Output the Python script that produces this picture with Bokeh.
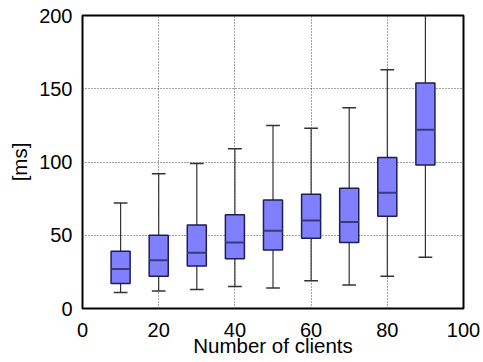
from bokeh.plotting import figure
from bokeh.models import Range1d, FixedTicker, ColumnDataSource
from bokeh.embed import file_html
from bokeh.resources import INLINE

clients = [10, 20, 30, 40, 50, 60, 70, 80, 90]
w_min = [11, 12, 13, 15, 14, 19, 16, 22, 35]
q1 = [17, 22, 29, 34, 40, 48, 45, 63, 98]
median = [27, 33, 38, 45, 53, 60, 59, 79, 122]
q3 = [39, 50, 57, 64, 74, 78, 82, 103, 154]
w_max = [72, 92, 99, 109, 125, 123, 137, 163, 215]

x_ticks = [0, 20, 40, 60, 80, 100]
y_ticks = [0, 50, 100, 150, 200]

box_w = 5.0
cap_w = 3.6

src = ColumnDataSource(dict(
    x=clients,
    left=[c - box_w / 2 for c in clients],
    right=[c + box_w / 2 for c in clients],
    cl=[c - cap_w / 2 for c in clients],
    cr=[c + cap_w / 2 for c in clients],
    lo=w_min, q1=q1, med=median, q3=q3, hi=w_max,
))

FONT = "Liberation Sans"

p = figure(width=483, height=362, output_backend="svg", toolbar_location=None,
           x_range=Range1d(0, 100), y_range=Range1d(0, 200),
           min_border_left=82, min_border_right=20, min_border_top=15, min_border_bottom=54)

p.outline_line_color = "black"
p.outline_line_width = 2
p.outline_line_alpha = 1

# whiskers
p.segment(x0="x", y0="lo", x1="x", y1="hi", source=src, line_color="#333333", line_width=1.2)
p.segment(x0="cl", y0="lo", x1="cr", y1="lo", source=src, line_color="#333333", line_width=1.5)
p.segment(x0="cl", y0="hi", x1="cr", y1="hi", source=src, line_color="#333333", line_width=1.5)
# boxes
p.quad(left="left", right="right", bottom="q1", top="q3", source=src,
       fill_color="#8080ff", line_color="#1e1e50", line_width=1.5)
# medians
p.segment(x0="left", y0="med", x1="right", y1="med", source=src, line_color="#3a3a78", line_width=2)

for ax, ticks in ((p.xaxis, x_ticks), (p.yaxis, y_ticks)):
    ax.ticker = FixedTicker(ticks=ticks)
    ax.major_tick_in = 0
    ax.major_tick_out = 0
    ax.minor_tick_line_color = None
    ax.axis_line_color = None
    ax.major_label_text_font = FONT
    ax.major_label_text_font_size = "20px"
    ax.major_label_text_color = "black"
    ax.axis_label_text_font = FONT
    ax.axis_label_text_font_size = "20.5px"
    ax.axis_label_text_font_style = "normal"
    ax.axis_label_text_color = "black"

p.xaxis.axis_label = "Number of clients"
p.yaxis.axis_label = "[ms]"
p.xaxis.major_label_standoff = 14
p.yaxis.major_label_standoff = 10
p.xaxis.axis_label_standoff = -6
p.yaxis.axis_label_standoff = 5

p.xgrid.ticker = FixedTicker(ticks=[20, 40, 60, 80])
p.ygrid.ticker = FixedTicker(ticks=[50, 100, 150])
for g in (p.xgrid, p.ygrid):
    g.grid_line_color = "#444444"
    g.grid_line_dash = "1 2"
    g.grid_line_width = 1

open("out.html", "w").write(file_html(p, INLINE))
